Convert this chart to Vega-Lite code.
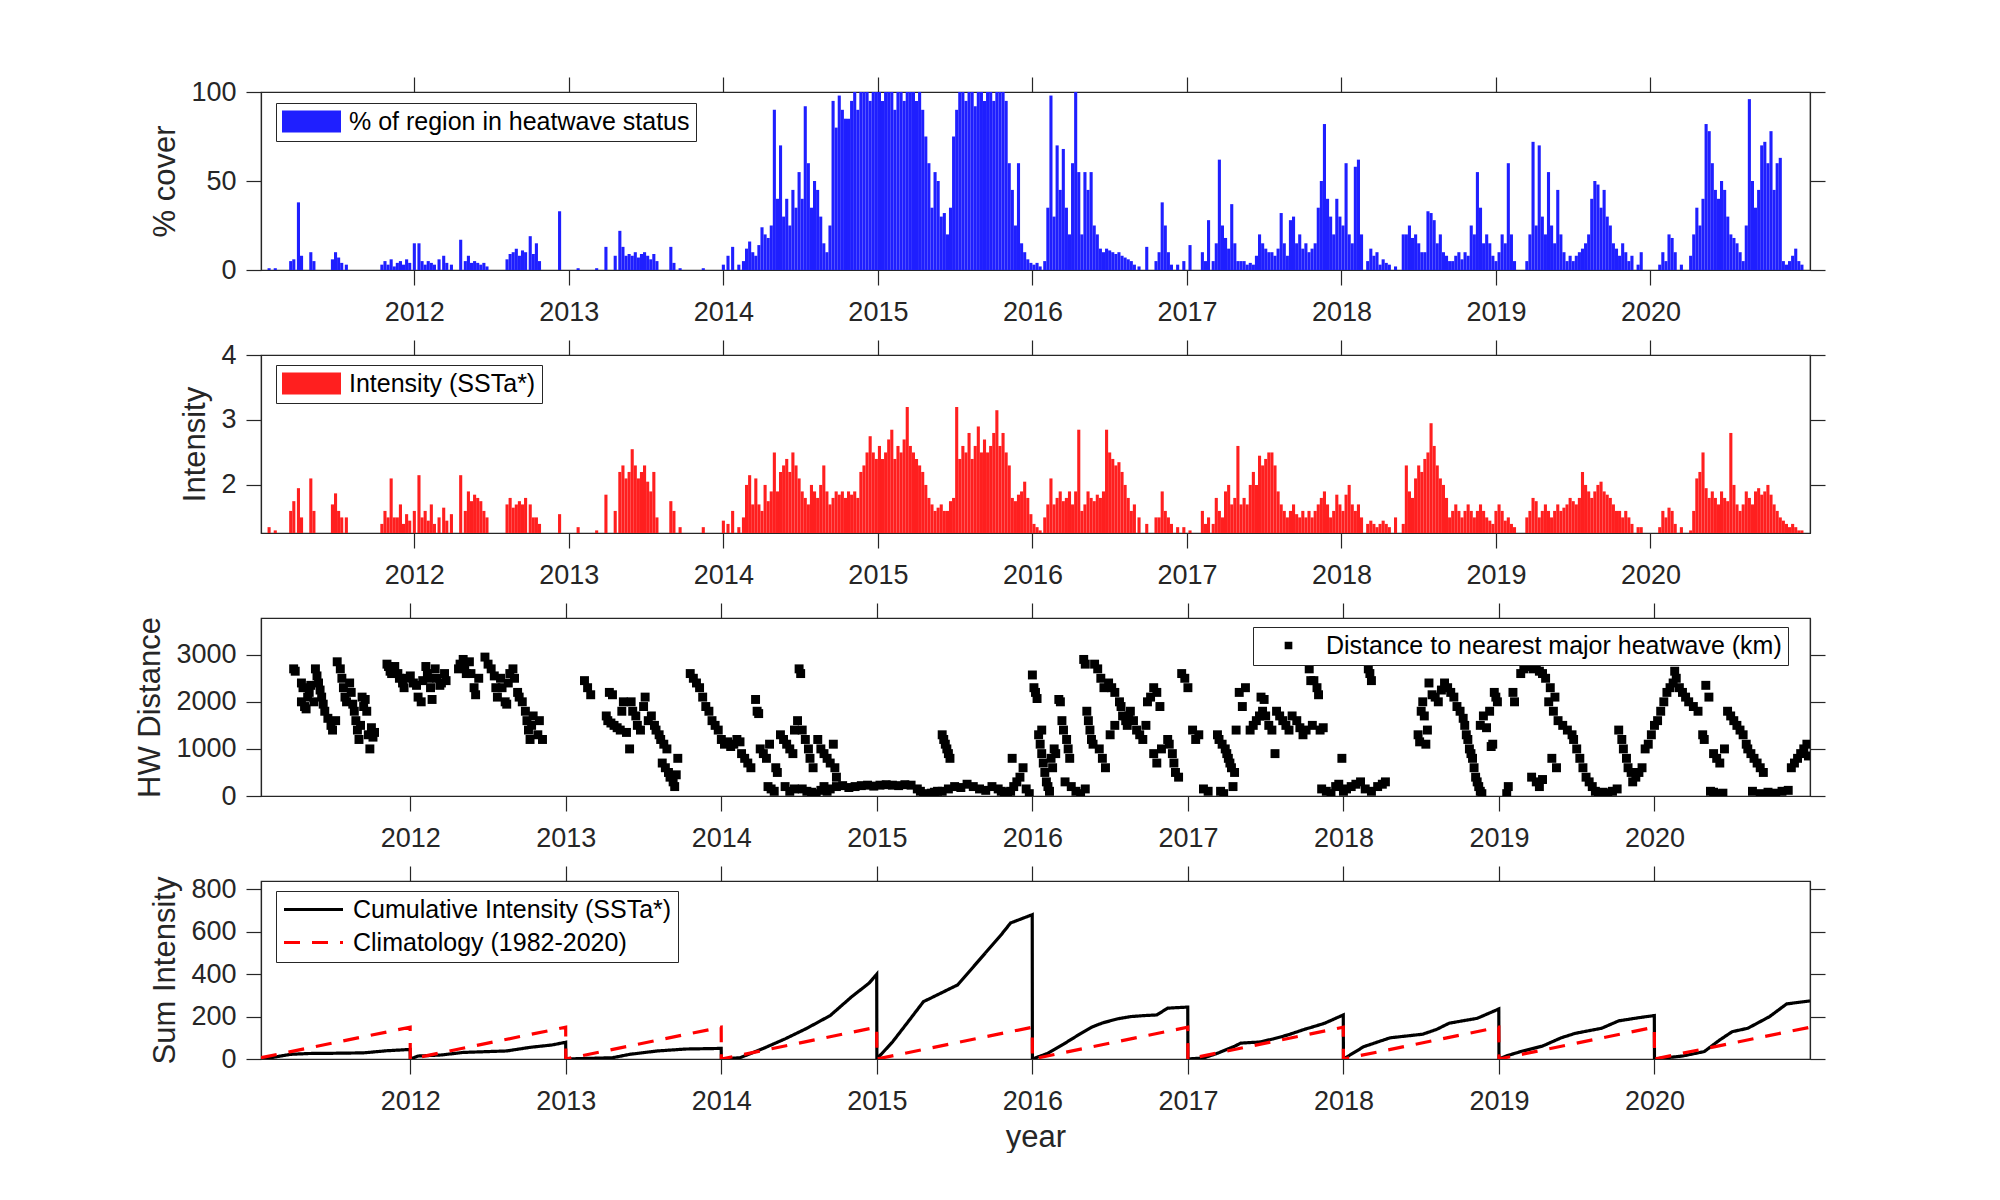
{
"$schema": "https://vega.github.io/schema/vega-lite/v6.json",
"background": "white",
"padding": {"left": 134, "top": 75, "right": 0, "bottom": 0},
"bounds": "flush",
"spacing": 85,
"datasets": {
"w": [
{"t":2011.06,"c":1,"i":1.35},{"t":2011.10,"c":1,"i":1.3},{"t":2011.20,"c":5,"i":1.6},{"t":2011.22,"c":6,"i":1.75},{"t":2011.25,"c":38,"i":1.95},{"t":2011.27,"c":8,"i":1.5},{"t":2011.33,"c":10,"i":2.1},{"t":2011.35,"c":5,"i":1.6},{"t":2011.47,"c":6,"i":1.7},{"t":2011.49,"c":10,"i":1.87},{"t":2011.51,"c":7,"i":1.6},{"t":2011.53,"c":4,"i":1.5},{"t":2011.56,"c":3,"i":1.5},{"t":2011.79,"c":3,"i":1.4},{"t":2011.81,"c":5,"i":1.6},{"t":2011.83,"c":3,"i":1.5},{"t":2011.85,"c":6,"i":2.1},{"t":2011.87,"c":2,"i":1.5},{"t":2011.89,"c":4,"i":1.5},{"t":2011.91,"c":5,"i":1.7},{"t":2011.93,"c":3,"i":1.4},{"t":2011.95,"c":6,"i":1.55},{"t":2011.97,"c":4,"i":1.45},
{"t":2012.00,"c":15,"i":1.6},{"t":2012.03,"c":15,"i":2.15},{"t":2012.05,"c":5,"i":1.5},{"t":2012.07,"c":3,"i":1.6},{"t":2012.09,"c":5,"i":1.45},{"t":2012.11,"c":4,"i":1.7},{"t":2012.13,"c":3,"i":1.4},{"t":2012.16,"c":6,"i":1.5},{"t":2012.19,"c":8,"i":1.65},{"t":2012.21,"c":4,"i":1.45},{"t":2012.24,"c":3,"i":1.55},{"t":2012.30,"c":17,"i":2.15},{"t":2012.33,"c":5,"i":1.6},{"t":2012.35,"c":8,"i":1.9},{"t":2012.37,"c":4,"i":1.75},{"t":2012.39,"c":5,"i":1.85},{"t":2012.41,"c":4,"i":1.8},{"t":2012.43,"c":3,"i":1.75},{"t":2012.45,"c":4,"i":1.6},{"t":2012.47,"c":2,"i":1.5},{"t":2012.60,"c":6,"i":1.7},{"t":2012.62,"c":9,"i":1.8},{"t":2012.64,"c":10,"i":1.65},{"t":2012.66,"c":12,"i":1.7},{"t":2012.68,"c":8,"i":1.75},{"t":2012.70,"c":11,"i":1.7},{"t":2012.72,"c":10,"i":1.8},{"t":2012.75,"c":19,"i":1.7},{"t":2012.77,"c":9,"i":1.5},{"t":2012.79,"c":15,"i":1.5},{"t":2012.81,"c":5,"i":1.4},{"t":2012.94,"c":33,"i":1.55},
{"t":2013.06,"c":1,"i":1.35},{"t":2013.18,"c":1,"i":1.3},{"t":2013.24,"c":13,"i":1.85},{"t":2013.30,"c":8,"i":1.6},{"t":2013.33,"c":22,"i":2.2},{"t":2013.35,"c":13,"i":2.3},{"t":2013.37,"c":8,"i":2.1},{"t":2013.39,"c":9,"i":2.2},{"t":2013.41,"c":8,"i":2.55},{"t":2013.43,"c":10,"i":2.3},{"t":2013.45,"c":7,"i":2.1},{"t":2013.47,"c":9,"i":2.2},{"t":2013.49,"c":10,"i":2.3},{"t":2013.51,"c":8,"i":2.05},{"t":2013.53,"c":6,"i":1.9},{"t":2013.55,"c":9,"i":2.2},{"t":2013.57,"c":5,"i":1.5},{"t":2013.66,"c":13,"i":1.75},{"t":2013.68,"c":4,"i":1.6},{"t":2013.72,"c":1,"i":1.35},{"t":2013.87,"c":1,"i":1.35},
{"t":2014.00,"c":3,"i":1.45},{"t":2014.03,"c":8,"i":1.4},{"t":2014.06,"c":13,"i":1.6},{"t":2014.10,"c":3,"i":1.35},{"t":2014.13,"c":5,"i":1.5},{"t":2014.15,"c":12,"i":2.0},{"t":2014.17,"c":16,"i":2.15},{"t":2014.19,"c":10,"i":1.7},{"t":2014.21,"c":8,"i":2.1},{"t":2014.23,"c":14,"i":1.7},{"t":2014.25,"c":24,"i":1.6},{"t":2014.27,"c":20,"i":2.0},{"t":2014.29,"c":18,"i":1.75},{"t":2014.31,"c":25,"i":1.9},{"t":2014.33,"c":90,"i":2.5},{"t":2014.35,"c":40,"i":1.9},{"t":2014.37,"c":70,"i":2.2},{"t":2014.39,"c":30,"i":2.3},{"t":2014.41,"c":40,"i":2.4},{"t":2014.43,"c":25,"i":2.2},{"t":2014.45,"c":45,"i":2.5},{"t":2014.47,"c":35,"i":2.3},{"t":2014.49,"c":55,"i":2.1},{"t":2014.51,"c":40,"i":1.9},{"t":2014.53,"c":92,"i":1.8},{"t":2014.55,"c":60,"i":1.7},{"t":2014.57,"c":35,"i":2.0},{"t":2014.59,"c":50,"i":1.9},{"t":2014.61,"c":45,"i":1.8},{"t":2014.63,"c":30,"i":2.0},{"t":2014.65,"c":15,"i":2.3},{"t":2014.67,"c":10,"i":1.9},{"t":2014.69,"c":25,"i":1.7},{"t":2014.71,"c":95,"i":1.8},{"t":2014.73,"c":80,"i":1.9},{"t":2014.75,"c":98,"i":1.85},{"t":2014.77,"c":90,"i":1.9},{"t":2014.79,"c":85,"i":1.8},{"t":2014.81,"c":85,"i":1.9},{"t":2014.83,"c":95,"i":1.85},{"t":2014.85,"c":100,"i":1.9},{"t":2014.87,"c":90,"i":1.8},{"t":2014.89,"c":100,"i":2.2},{"t":2014.91,"c":100,"i":2.3},{"t":2014.93,"c":100,"i":2.5},{"t":2014.95,"c":95,"i":2.75},{"t":2014.97,"c":100,"i":2.5},{"t":2014.99,"c":100,"i":2.4},
{"t":2015.01,"c":100,"i":2.6},{"t":2015.03,"c":95,"i":2.4},{"t":2015.05,"c":100,"i":2.5},{"t":2015.07,"c":100,"i":2.7},{"t":2015.09,"c":100,"i":2.85},{"t":2015.11,"c":90,"i":2.4},{"t":2015.13,"c":100,"i":2.6},{"t":2015.15,"c":100,"i":2.5},{"t":2015.17,"c":95,"i":2.7},{"t":2015.19,"c":100,"i":3.2},{"t":2015.21,"c":100,"i":2.6},{"t":2015.23,"c":100,"i":2.5},{"t":2015.25,"c":95,"i":2.4},{"t":2015.27,"c":100,"i":2.3},{"t":2015.29,"c":90,"i":2.2},{"t":2015.31,"c":75,"i":2.0},{"t":2015.33,"c":60,"i":1.8},{"t":2015.35,"c":35,"i":1.7},{"t":2015.37,"c":55,"i":1.6},{"t":2015.39,"c":50,"i":1.65},{"t":2015.41,"c":30,"i":1.7},{"t":2015.43,"c":32,"i":1.6},{"t":2015.45,"c":20,"i":1.6},{"t":2015.47,"c":35,"i":1.75},{"t":2015.49,"c":75,"i":1.8},{"t":2015.51,"c":90,"i":3.2},{"t":2015.53,"c":100,"i":2.4},{"t":2015.55,"c":100,"i":2.6},{"t":2015.57,"c":95,"i":2.5},{"t":2015.59,"c":100,"i":2.8},{"t":2015.61,"c":100,"i":2.4},{"t":2015.63,"c":92,"i":2.6},{"t":2015.65,"c":100,"i":2.9},{"t":2015.67,"c":100,"i":2.5},{"t":2015.69,"c":95,"i":2.7},{"t":2015.71,"c":100,"i":2.5},{"t":2015.73,"c":100,"i":2.6},{"t":2015.75,"c":95,"i":2.8},{"t":2015.77,"c":100,"i":3.15},{"t":2015.79,"c":100,"i":2.6},{"t":2015.81,"c":100,"i":2.8},{"t":2015.83,"c":95,"i":2.5},{"t":2015.85,"c":60,"i":2.3},{"t":2015.87,"c":45,"i":1.8},{"t":2015.89,"c":25,"i":1.75},{"t":2015.91,"c":60,"i":1.85},{"t":2015.93,"c":15,"i":1.9},{"t":2015.95,"c":10,"i":2.05},{"t":2015.97,"c":6,"i":1.8},{"t":2015.99,"c":4,"i":1.55},
{"t":2016.01,"c":3,"i":1.4},{"t":2016.03,"c":4,"i":1.35},{"t":2016.05,"c":2,"i":1.3},{"t":2016.08,"c":5,"i":1.5},{"t":2016.10,"c":35,"i":1.7},{"t":2016.12,"c":98,"i":2.1},{"t":2016.14,"c":30,"i":1.7},{"t":2016.16,"c":70,"i":1.8},{"t":2016.18,"c":45,"i":1.9},{"t":2016.20,"c":68,"i":1.75},{"t":2016.22,"c":35,"i":1.8},{"t":2016.24,"c":20,"i":1.9},{"t":2016.26,"c":60,"i":1.7},{"t":2016.28,"c":100,"i":1.9},{"t":2016.30,"c":55,"i":2.85},{"t":2016.32,"c":20,"i":1.6},{"t":2016.34,"c":55,"i":1.7},{"t":2016.36,"c":45,"i":1.9},{"t":2016.38,"c":55,"i":1.8},{"t":2016.40,"c":25,"i":1.75},{"t":2016.42,"c":20,"i":1.85},{"t":2016.44,"c":12,"i":1.8},{"t":2016.46,"c":10,"i":1.9},{"t":2016.48,"c":12,"i":2.85},{"t":2016.50,"c":11,"i":2.5},{"t":2016.52,"c":10,"i":2.4},{"t":2016.54,"c":9,"i":2.3},{"t":2016.56,"c":10,"i":2.35},{"t":2016.58,"c":8,"i":2.2},{"t":2016.60,"c":7,"i":2.0},{"t":2016.62,"c":6,"i":1.8},{"t":2016.64,"c":5,"i":1.6},{"t":2016.66,"c":3,"i":1.7},{"t":2016.69,"c":2,"i":1.5},{"t":2016.74,"c":13,"i":1.4},{"t":2016.80,"c":5,"i":1.5},{"t":2016.82,"c":10,"i":1.5},{"t":2016.84,"c":38,"i":1.9},{"t":2016.86,"c":25,"i":1.6},{"t":2016.88,"c":10,"i":1.5},{"t":2016.90,"c":3,"i":1.4},{"t":2016.94,"c":3,"i":1.35},{"t":2016.98,"c":5,"i":1.35},
{"t":2017.02,"c":14,"i":1.3},{"t":2017.10,"c":10,"i":1.6},{"t":2017.12,"c":5,"i":1.4},{"t":2017.14,"c":28,"i":1.5},{"t":2017.17,"c":5,"i":1.4},{"t":2017.19,"c":15,"i":1.8},{"t":2017.21,"c":62,"i":1.6},{"t":2017.23,"c":25,"i":1.5},{"t":2017.25,"c":18,"i":1.9},{"t":2017.27,"c":12,"i":2.0},{"t":2017.29,"c":37,"i":1.7},{"t":2017.31,"c":15,"i":1.8},{"t":2017.33,"c":5,"i":2.6},{"t":2017.35,"c":5,"i":1.7},{"t":2017.37,"c":5,"i":1.8},{"t":2017.39,"c":3,"i":1.7},{"t":2017.41,"c":4,"i":2.0},{"t":2017.43,"c":3,"i":2.2},{"t":2017.45,"c":8,"i":2.0},{"t":2017.47,"c":20,"i":2.45},{"t":2017.49,"c":15,"i":2.3},{"t":2017.51,"c":12,"i":2.4},{"t":2017.53,"c":10,"i":2.5},{"t":2017.55,"c":10,"i":2.5},{"t":2017.57,"c":8,"i":2.3},{"t":2017.59,"c":12,"i":1.9},{"t":2017.61,"c":32,"i":1.7},{"t":2017.63,"c":15,"i":1.6},{"t":2017.65,"c":8,"i":1.5},{"t":2017.67,"c":28,"i":1.6},{"t":2017.69,"c":30,"i":1.7},{"t":2017.71,"c":15,"i":1.55},{"t":2017.73,"c":20,"i":1.5},{"t":2017.75,"c":12,"i":1.6},{"t":2017.77,"c":15,"i":1.5},{"t":2017.79,"c":10,"i":1.6},{"t":2017.81,"c":12,"i":1.5},{"t":2017.83,"c":15,"i":1.6},{"t":2017.85,"c":35,"i":1.7},{"t":2017.87,"c":50,"i":1.8},{"t":2017.89,"c":82,"i":1.9},{"t":2017.91,"c":40,"i":1.7},{"t":2017.93,"c":30,"i":1.5},{"t":2017.95,"c":20,"i":1.6},{"t":2017.97,"c":40,"i":1.85},{"t":2017.99,"c":30,"i":1.7},
{"t":2018.01,"c":25,"i":1.6},{"t":2018.03,"c":60,"i":1.85},{"t":2018.05,"c":20,"i":2.0},{"t":2018.07,"c":15,"i":1.7},{"t":2018.09,"c":58,"i":1.6},{"t":2018.11,"c":62,"i":1.7},{"t":2018.13,"c":20,"i":1.5},{"t":2018.17,"c":5,"i":1.4},{"t":2018.19,"c":12,"i":1.45},{"t":2018.21,"c":8,"i":1.4},{"t":2018.23,"c":10,"i":1.35},{"t":2018.25,"c":3,"i":1.4},{"t":2018.27,"c":6,"i":1.45},{"t":2018.29,"c":4,"i":1.4},{"t":2018.31,"c":3,"i":1.35},{"t":2018.35,"c":2,"i":1.5},{"t":2018.40,"c":20,"i":1.4},{"t":2018.42,"c":20,"i":2.3},{"t":2018.44,"c":25,"i":1.9},{"t":2018.46,"c":18,"i":1.8},{"t":2018.48,"c":20,"i":2.1},{"t":2018.50,"c":15,"i":2.3},{"t":2018.52,"c":10,"i":2.2},{"t":2018.54,"c":10,"i":2.4},{"t":2018.56,"c":33,"i":2.5},{"t":2018.58,"c":32,"i":2.95},{"t":2018.60,"c":28,"i":2.6},{"t":2018.62,"c":15,"i":2.3},{"t":2018.64,"c":20,"i":2.1},{"t":2018.66,"c":10,"i":2.0},{"t":2018.68,"c":8,"i":1.8},{"t":2018.70,"c":5,"i":1.5},{"t":2018.72,"c":5,"i":1.6},{"t":2018.74,"c":8,"i":1.7},{"t":2018.76,"c":10,"i":1.6},{"t":2018.78,"c":6,"i":1.5},{"t":2018.80,"c":10,"i":1.6},{"t":2018.82,"c":8,"i":1.7},{"t":2018.84,"c":25,"i":1.6},{"t":2018.86,"c":20,"i":1.5},{"t":2018.88,"c":55,"i":1.6},{"t":2018.90,"c":35,"i":1.7},{"t":2018.92,"c":15,"i":1.6},{"t":2018.94,"c":20,"i":1.5},{"t":2018.96,"c":15,"i":1.45},{"t":2018.98,"c":8,"i":1.4},
{"t":2019.00,"c":5,"i":1.6},{"t":2019.02,"c":10,"i":1.7},{"t":2019.04,"c":20,"i":1.6},{"t":2019.06,"c":15,"i":1.45},{"t":2019.08,"c":60,"i":1.5},{"t":2019.10,"c":20,"i":1.4},{"t":2019.12,"c":5,"i":1.35},{"t":2019.20,"c":5,"i":1.5},{"t":2019.22,"c":20,"i":1.6},{"t":2019.24,"c":72,"i":1.8},{"t":2019.26,"c":25,"i":1.75},{"t":2019.28,"c":70,"i":1.5},{"t":2019.30,"c":30,"i":1.6},{"t":2019.32,"c":20,"i":1.7},{"t":2019.34,"c":55,"i":1.6},{"t":2019.36,"c":25,"i":1.5},{"t":2019.38,"c":15,"i":1.6},{"t":2019.40,"c":45,"i":1.7},{"t":2019.42,"c":20,"i":1.6},{"t":2019.44,"c":10,"i":1.65},{"t":2019.46,"c":5,"i":1.7},{"t":2019.48,"c":8,"i":1.8},{"t":2019.50,"c":5,"i":1.75},{"t":2019.52,"c":8,"i":1.7},{"t":2019.54,"c":10,"i":1.8},{"t":2019.56,"c":12,"i":2.2},{"t":2019.58,"c":15,"i":2.0},{"t":2019.60,"c":20,"i":1.9},{"t":2019.62,"c":40,"i":1.8},{"t":2019.64,"c":50,"i":1.9},{"t":2019.66,"c":48,"i":2.0},{"t":2019.68,"c":35,"i":2.05},{"t":2019.70,"c":45,"i":1.9},{"t":2019.72,"c":30,"i":1.85},{"t":2019.74,"c":25,"i":1.8},{"t":2019.76,"c":15,"i":1.7},{"t":2019.78,"c":12,"i":1.6},{"t":2019.80,"c":8,"i":1.6},{"t":2019.82,"c":15,"i":1.5},{"t":2019.84,"c":10,"i":1.6},{"t":2019.86,"c":5,"i":1.5},{"t":2019.88,"c":8,"i":1.4},{"t":2019.92,"c":3,"i":1.35},{"t":2019.94,"c":10,"i":1.35},
{"t":2020.06,"c":3,"i":1.35},{"t":2020.08,"c":10,"i":1.6},{"t":2020.10,"c":5,"i":1.5},{"t":2020.12,"c":20,"i":1.65},{"t":2020.14,"c":18,"i":1.6},{"t":2020.16,"c":10,"i":1.4},{"t":2020.20,"c":3,"i":1.35},{"t":2020.26,"c":8,"i":1.3},{"t":2020.28,"c":20,"i":1.6},{"t":2020.30,"c":35,"i":2.1},{"t":2020.32,"c":25,"i":2.2},{"t":2020.34,"c":40,"i":2.5},{"t":2020.36,"c":82,"i":1.95},{"t":2020.38,"c":78,"i":1.8},{"t":2020.40,"c":60,"i":1.9},{"t":2020.42,"c":45,"i":1.8},{"t":2020.44,"c":40,"i":1.7},{"t":2020.46,"c":50,"i":1.9},{"t":2020.48,"c":45,"i":1.8},{"t":2020.50,"c":30,"i":1.75},{"t":2020.52,"c":20,"i":2.8},{"t":2020.54,"c":18,"i":2.0},{"t":2020.56,"c":15,"i":1.7},{"t":2020.58,"c":10,"i":1.6},{"t":2020.60,"c":5,"i":1.7},{"t":2020.62,"c":25,"i":1.9},{"t":2020.64,"c":96,"i":1.8},{"t":2020.66,"c":50,"i":1.7},{"t":2020.68,"c":35,"i":1.9},{"t":2020.70,"c":45,"i":1.95},{"t":2020.72,"c":70,"i":1.85},{"t":2020.74,"c":72,"i":1.9},{"t":2020.76,"c":60,"i":2.0},{"t":2020.78,"c":78,"i":1.85},{"t":2020.80,"c":45,"i":1.7},{"t":2020.82,"c":60,"i":1.6},{"t":2020.84,"c":63,"i":1.5},{"t":2020.86,"c":5,"i":1.45},{"t":2020.88,"c":3,"i":1.4},{"t":2020.90,"c":5,"i":1.35},{"t":2020.92,"c":8,"i":1.4},{"t":2020.94,"c":12,"i":1.35},{"t":2020.96,"c":5,"i":1.3},{"t":2020.98,"c":3,"i":1.3}
],
"d": [
{"t":2011.25,"h":2700},{"t":2011.26,"h":2650},{"t":2011.30,"h":2400},{"t":2011.31,"h":2300},{"t":2011.30,"h":2000},{"t":2011.32,"h":1900},{"t":2011.33,"h":1850},{"t":2011.34,"h":2100},{"t":2011.35,"h":2200},{"t":2011.36,"h":2350},{"t":2011.38,"h":2000},{"t":2011.39,"h":2700},{"t":2011.40,"h":2550},{"t":2011.41,"h":2400},{"t":2011.42,"h":2250},{"t":2011.43,"h":2100},{"t":2011.44,"h":1950},{"t":2011.45,"h":1800},{"t":2011.47,"h":1650},{"t":2011.49,"h":1500},{"t":2011.50,"h":1400},{"t":2011.52,"h":1600},{"t":2011.53,"h":2850},{"t":2011.55,"h":2700},{"t":2011.56,"h":2500},{"t":2011.57,"h":2300},{"t":2011.58,"h":2100},{"t":2011.59,"h":2000},{"t":2011.61,"h":2400},{"t":2011.62,"h":2200},{"t":2011.63,"h":1950},{"t":2011.64,"h":1800},{"t":2011.65,"h":1600},{"t":2011.66,"h":1400},{"t":2011.67,"h":1200},{"t":2011.68,"h":1500},{"t":2011.69,"h":2100},{"t":2011.70,"h":1900},{"t":2011.71,"h":2050},{"t":2011.72,"h":1800},{"t":2011.73,"h":1300},{"t":2011.74,"h":1000},{"t":2011.75,"h":1450},{"t":2011.76,"h":1250},{"t":2011.77,"h":1350},
{"t":2011.85,"h":2800},{"t":2011.86,"h":2750},{"t":2011.87,"h":2650},{"t":2011.88,"h":2600},{"t":2011.90,"h":2750},{"t":2011.92,"h":2600},{"t":2011.93,"h":2500},{"t":2011.95,"h":2400},{"t":2011.96,"h":2300},{"t":2011.98,"h":2500},{"t":2012.00,"h":2550},{"t":2012.02,"h":2400},{"t":2012.04,"h":2350},{"t":2012.05,"h":2100},{"t":2012.07,"h":2000},{"t":2012.08,"h":2450},{"t":2012.10,"h":2750},{"t":2012.11,"h":2600},{"t":2012.12,"h":2500},{"t":2012.13,"h":2300},{"t":2012.14,"h":2050},{"t":2012.16,"h":2700},{"t":2012.17,"h":2500},{"t":2012.19,"h":2350},{"t":2012.20,"h":2400},{"t":2012.22,"h":2600},{"t":2012.23,"h":2450},{"t":2012.31,"h":2700},{"t":2012.32,"h":2800},{"t":2012.34,"h":2900},{"t":2012.35,"h":2750},{"t":2012.36,"h":2600},{"t":2012.38,"h":2850},{"t":2012.39,"h":2600},{"t":2012.41,"h":2300},{"t":2012.42,"h":2150},{"t":2012.44,"h":2500},{"t":2012.48,"h":2950},{"t":2012.50,"h":2800},{"t":2012.52,"h":2700},{"t":2012.54,"h":2550},{"t":2012.55,"h":2300},{"t":2012.56,"h":2100},{"t":2012.58,"h":2500},{"t":2012.59,"h":2300},{"t":2012.61,"h":2000},{"t":2012.62,"h":1950},{"t":2012.63,"h":2400},{"t":2012.64,"h":2600},{"t":2012.66,"h":2700},{"t":2012.67,"h":2500},{"t":2012.69,"h":2200},{"t":2012.70,"h":2100},{"t":2012.72,"h":2000},{"t":2012.74,"h":1800},{"t":2012.75,"h":1600},{"t":2012.76,"h":1400},{"t":2012.77,"h":1200},{"t":2012.78,"h":1500},{"t":2012.79,"h":1700},{"t":2012.82,"h":1300},{"t":2012.83,"h":1600},{"t":2012.85,"h":1200},
{"t":2013.12,"h":2450},{"t":2013.14,"h":2300},{"t":2013.16,"h":2150},{"t":2013.28,"h":2200},{"t":2013.30,"h":2150},{"t":2013.26,"h":1700},{"t":2013.27,"h":1600},{"t":2013.29,"h":1550},{"t":2013.31,"h":1500},{"t":2013.33,"h":1450},{"t":2013.35,"h":1400},{"t":2013.36,"h":1800},{"t":2013.37,"h":2000},{"t":2013.39,"h":1350},{"t":2013.41,"h":1000},{"t":2013.42,"h":2000},{"t":2013.43,"h":1800},{"t":2013.45,"h":1700},{"t":2013.46,"h":1500},{"t":2013.48,"h":1400},{"t":2013.50,"h":1900},{"t":2013.51,"h":2100},{"t":2013.53,"h":1600},{"t":2013.55,"h":1700},{"t":2013.57,"h":1500},{"t":2013.58,"h":1400},{"t":2013.60,"h":1300},{"t":2013.61,"h":1200},{"t":2013.63,"h":1100},{"t":2013.65,"h":1000},{"t":2013.62,"h":700},{"t":2013.64,"h":600},{"t":2013.66,"h":500},{"t":2013.67,"h":400},{"t":2013.69,"h":300},{"t":2013.70,"h":200},{"t":2013.71,"h":450},{"t":2013.72,"h":800},{"t":2013.80,"h":2600},{"t":2013.82,"h":2500},{"t":2013.84,"h":2400},{"t":2013.86,"h":2300},{"t":2013.88,"h":2100},{"t":2013.90,"h":1900},{"t":2013.92,"h":1800},{"t":2013.94,"h":1600},{"t":2013.96,"h":1500},{"t":2013.98,"h":1400},
{"t":2014.00,"h":1200},{"t":2014.02,"h":1100},{"t":2014.04,"h":1150},{"t":2014.06,"h":1050},{"t":2014.08,"h":1100},{"t":2014.10,"h":1200},{"t":2014.12,"h":1150},{"t":2014.13,"h":900},{"t":2014.15,"h":800},{"t":2014.17,"h":700},{"t":2014.19,"h":600},{"t":2014.22,"h":2050},{"t":2014.23,"h":1800},{"t":2014.24,"h":1750},{"t":2014.25,"h":1000},{"t":2014.27,"h":900},{"t":2014.29,"h":800},{"t":2014.31,"h":1100},{"t":2014.30,"h":200},{"t":2014.32,"h":150},{"t":2014.34,"h":100},{"t":2014.35,"h":600},{"t":2014.36,"h":500},{"t":2014.38,"h":1300},{"t":2014.40,"h":1200},{"t":2014.42,"h":1100},{"t":2014.44,"h":1000},{"t":2014.46,"h":900},{"t":2014.47,"h":1400},{"t":2014.41,"h":200},{"t":2014.44,"h":100},{"t":2014.47,"h":150},{"t":2014.50,"h":2700},{"t":2014.51,"h":2600},{"t":2014.49,"h":1600},{"t":2014.52,"h":1400},{"t":2014.54,"h":1200},{"t":2014.56,"h":1000},{"t":2014.57,"h":800},{"t":2014.59,"h":600},{"t":2014.52,"h":150},{"t":2014.55,"h":100},{"t":2014.58,"h":80},{"t":2014.61,"h":50},{"t":2014.64,"h":120},{"t":2014.66,"h":200},{"t":2014.68,"h":100},{"t":2014.62,"h":1200},{"t":2014.64,"h":1000},{"t":2014.66,"h":900},{"t":2014.68,"h":800},{"t":2014.70,"h":700},{"t":2014.72,"h":1100},{"t":2014.73,"h":600},{"t":2014.74,"h":400},{"t":2014.70,"h":150},{"t":2014.74,"h":200},{"t":2014.78,"h":220},{"t":2014.82,"h":180},{"t":2014.86,"h":200},{"t":2014.90,"h":220},{"t":2014.94,"h":230},{"t":2014.98,"h":210},
{"t":2015.02,"h":230},{"t":2015.06,"h":240},{"t":2015.10,"h":230},{"t":2015.14,"h":220},{"t":2015.18,"h":240},{"t":2015.22,"h":230},{"t":2015.26,"h":150},{"t":2015.28,"h":100},{"t":2015.30,"h":50},{"t":2015.32,"h":30},{"t":2015.35,"h":60},{"t":2015.37,"h":80},{"t":2015.39,"h":100},{"t":2015.42,"h":1300},{"t":2015.43,"h":1200},{"t":2015.44,"h":1100},{"t":2015.45,"h":1000},{"t":2015.46,"h":900},{"t":2015.47,"h":800},{"t":2015.42,"h":100},{"t":2015.46,"h":150},{"t":2015.50,"h":200},{"t":2015.54,"h":180},{"t":2015.58,"h":250},{"t":2015.62,"h":200},{"t":2015.66,"h":150},{"t":2015.70,"h":120},{"t":2015.74,"h":200},{"t":2015.78,"h":150},{"t":2015.80,"h":100},{"t":2015.82,"h":50},{"t":2015.84,"h":80},{"t":2015.86,"h":100},{"t":2015.87,"h":800},{"t":2015.88,"h":200},{"t":2015.90,"h":300},{"t":2015.92,"h":400},{"t":2015.94,"h":600},{"t":2015.96,"h":150},{"t":2015.98,"h":50},
{"t":2016.00,"h":2570},{"t":2016.01,"h":2300},{"t":2016.02,"h":2200},{"t":2016.03,"h":2070},{"t":2016.04,"h":1300},{"t":2016.05,"h":1100},{"t":2016.06,"h":900},{"t":2016.07,"h":700},{"t":2016.06,"h":1400},{"t":2016.08,"h":500},{"t":2016.09,"h":300},{"t":2016.10,"h":200},{"t":2016.11,"h":100},{"t":2016.12,"h":800},{"t":2016.13,"h":600},{"t":2016.14,"h":1000},{"t":2016.15,"h":900},{"t":2016.17,"h":2050},{"t":2016.18,"h":2000},{"t":2016.19,"h":1600},{"t":2016.20,"h":1400},{"t":2016.22,"h":1200},{"t":2016.23,"h":1000},{"t":2016.24,"h":800},{"t":2016.21,"h":300},{"t":2016.25,"h":200},{"t":2016.28,"h":100},{"t":2016.31,"h":50},{"t":2016.34,"h":150},{"t":2016.33,"h":2900},{"t":2016.34,"h":2800},{"t":2016.35,"h":1800},{"t":2016.36,"h":1600},{"t":2016.37,"h":1400},{"t":2016.38,"h":1200},{"t":2016.39,"h":1100},{"t":2016.40,"h":2800},{"t":2016.42,"h":2700},{"t":2016.44,"h":2500},{"t":2016.46,"h":2300},{"t":2016.43,"h":1000},{"t":2016.45,"h":800},{"t":2016.47,"h":600},{"t":2016.50,"h":1300},{"t":2016.53,"h":1500},{"t":2016.49,"h":2400},{"t":2016.51,"h":2300},{"t":2016.53,"h":2200},{"t":2016.56,"h":2000},{"t":2016.57,"h":1900},{"t":2016.58,"h":1700},{"t":2016.60,"h":1600},{"t":2016.61,"h":1500},{"t":2016.62,"h":1700},{"t":2016.63,"h":1800},{"t":2016.65,"h":1600},{"t":2016.67,"h":1400},{"t":2016.69,"h":1300},{"t":2016.71,"h":1200},{"t":2016.73,"h":1500},{"t":2016.74,"h":2000},{"t":2016.76,"h":2100},{"t":2016.78,"h":2300},{"t":2016.80,"h":2200},{"t":2016.82,"h":1900},{"t":2016.78,"h":900},{"t":2016.80,"h":700},{"t":2016.83,"h":1000},{"t":2016.87,"h":1200},{"t":2016.88,"h":1100},{"t":2016.90,"h":900},{"t":2016.91,"h":700},{"t":2016.92,"h":500},{"t":2016.94,"h":400},{"t":2016.96,"h":2600},{"t":2016.98,"h":2500},{"t":2017.00,"h":2300},
{"t":2017.03,"h":1400},{"t":2017.05,"h":1200},{"t":2017.07,"h":1300},{"t":2017.10,"h":150},{"t":2017.13,"h":100},{"t":2017.19,"h":1300},{"t":2017.20,"h":1200},{"t":2017.21,"h":100},{"t":2017.22,"h":1100},{"t":2017.23,"h":50},{"t":2017.24,"h":1000},{"t":2017.25,"h":900},{"t":2017.26,"h":800},{"t":2017.27,"h":700},{"t":2017.28,"h":600},{"t":2017.29,"h":200},{"t":2017.30,"h":500},{"t":2017.31,"h":1400},{"t":2017.33,"h":2200},{"t":2017.35,"h":1900},{"t":2017.37,"h":2300},{"t":2017.40,"h":1400},{"t":2017.42,"h":1500},{"t":2017.44,"h":1600},{"t":2017.46,"h":1700},{"t":2017.47,"h":2100},{"t":2017.48,"h":1800},{"t":2017.49,"h":2050},{"t":2017.50,"h":1700},{"t":2017.52,"h":1500},{"t":2017.54,"h":1400},{"t":2017.56,"h":900},{"t":2017.57,"h":1800},{"t":2017.59,"h":1700},{"t":2017.61,"h":1600},{"t":2017.63,"h":1500},{"t":2017.65,"h":1400},{"t":2017.67,"h":1700},{"t":2017.70,"h":1600},{"t":2017.72,"h":1450},{"t":2017.74,"h":1300},{"t":2017.76,"h":1400},{"t":2017.78,"h":2700},{"t":2017.79,"h":2450},{"t":2017.80,"h":1500},{"t":2017.81,"h":2450},{"t":2017.83,"h":2300},{"t":2017.84,"h":2150},{"t":2017.85,"h":1400},{"t":2017.87,"h":1450},{"t":2017.86,"h":150},{"t":2017.89,"h":100},{"t":2017.92,"h":50},{"t":2017.95,"h":200},{"t":2017.97,"h":250},{"t":2017.99,"h":800},{"t":2018.00,"h":100},
{"t":2018.02,"h":150},{"t":2018.05,"h":200},{"t":2018.08,"h":250},{"t":2018.11,"h":300},{"t":2018.14,"h":150},{"t":2018.18,"h":100},{"t":2018.22,"h":200},{"t":2018.25,"h":250},{"t":2018.27,"h":300},{"t":2018.16,"h":2700},{"t":2018.17,"h":2600},{"t":2018.18,"h":2450},{"t":2018.48,"h":1300},{"t":2018.49,"h":1150},{"t":2018.50,"h":1800},{"t":2018.51,"h":2000},{"t":2018.52,"h":1700},{"t":2018.53,"h":1100},{"t":2018.54,"h":1400},{"t":2018.55,"h":2400},{"t":2018.57,"h":2150},{"t":2018.59,"h":2100},{"t":2018.61,"h":2000},{"t":2018.63,"h":2250},{"t":2018.65,"h":2400},{"t":2018.67,"h":2300},{"t":2018.69,"h":2200},{"t":2018.71,"h":2100},{"t":2018.73,"h":1900},{"t":2018.75,"h":1800},{"t":2018.77,"h":1650},{"t":2018.78,"h":1500},{"t":2018.79,"h":1300},{"t":2018.80,"h":1200},{"t":2018.81,"h":1000},{"t":2018.82,"h":900},{"t":2018.83,"h":800},{"t":2018.84,"h":600},{"t":2018.85,"h":400},{"t":2018.86,"h":300},{"t":2018.87,"h":200},{"t":2018.88,"h":100},{"t":2018.89,"h":50},{"t":2018.88,"h":1500},{"t":2018.90,"h":1700},{"t":2018.92,"h":1450},{"t":2018.94,"h":1800},{"t":2018.95,"h":1050},{"t":2018.96,"h":1100},{"t":2018.97,"h":2200},{"t":2018.98,"h":2100},{"t":2018.99,"h":2000},{"t":2019.05,"h":50},{"t":2019.06,"h":200},{"t":2019.09,"h":2200},{"t":2019.10,"h":2000},
{"t":2019.14,"h":2600},{"t":2019.16,"h":2700},{"t":2019.18,"h":2750},{"t":2019.20,"h":2800},{"t":2019.22,"h":2700},{"t":2019.24,"h":2750},{"t":2019.26,"h":2650},{"t":2019.28,"h":2600},{"t":2019.21,"h":400},{"t":2019.24,"h":300},{"t":2019.26,"h":200},{"t":2019.28,"h":350},{"t":2019.30,"h":2500},{"t":2019.33,"h":2300},{"t":2019.36,"h":2100},{"t":2019.32,"h":2000},{"t":2019.35,"h":1800},{"t":2019.38,"h":1600},{"t":2019.41,"h":1500},{"t":2019.44,"h":1400},{"t":2019.47,"h":1300},{"t":2019.34,"h":800},{"t":2019.37,"h":600},{"t":2019.48,"h":1200},{"t":2019.50,"h":1000},{"t":2019.52,"h":800},{"t":2019.54,"h":600},{"t":2019.56,"h":400},{"t":2019.58,"h":300},{"t":2019.60,"h":200},{"t":2019.62,"h":100},{"t":2019.64,"h":50},{"t":2019.67,"h":80},{"t":2019.70,"h":60},{"t":2019.73,"h":100},{"t":2019.76,"h":150},{"t":2019.77,"h":1400},{"t":2019.79,"h":1200},{"t":2019.80,"h":1000},{"t":2019.82,"h":800},{"t":2019.83,"h":600},{"t":2019.85,"h":500},{"t":2019.86,"h":300},{"t":2019.88,"h":400},{"t":2019.90,"h":500},{"t":2019.92,"h":600},{"t":2019.94,"h":1000},{"t":2019.96,"h":1100},{"t":2019.98,"h":1300},{"t":2020.00,"h":1500},
{"t":2020.02,"h":1600},{"t":2020.04,"h":1800},{"t":2020.06,"h":2000},{"t":2020.08,"h":2200},{"t":2020.10,"h":2300},{"t":2020.12,"h":2400},{"t":2020.14,"h":2500},{"t":2020.13,"h":2650},{"t":2020.16,"h":2300},{"t":2020.18,"h":2200},{"t":2020.20,"h":2100},{"t":2020.22,"h":2000},{"t":2020.25,"h":1900},{"t":2020.28,"h":1800},{"t":2020.31,"h":1300},{"t":2020.32,"h":1200},{"t":2020.33,"h":2350},{"t":2020.35,"h":2100},{"t":2020.36,"h":100},{"t":2020.38,"h":80},{"t":2020.41,"h":50},{"t":2020.44,"h":60},{"t":2020.38,"h":900},{"t":2020.40,"h":800},{"t":2020.42,"h":700},{"t":2020.45,"h":1000},{"t":2020.47,"h":1800},{"t":2020.49,"h":1700},{"t":2020.51,"h":1600},{"t":2020.53,"h":1500},{"t":2020.55,"h":1400},{"t":2020.57,"h":1300},{"t":2020.59,"h":1100},{"t":2020.60,"h":1000},{"t":2020.62,"h":900},{"t":2020.64,"h":800},{"t":2020.66,"h":700},{"t":2020.68,"h":600},{"t":2020.70,"h":500},{"t":2020.63,"h":100},{"t":2020.68,"h":50},{"t":2020.73,"h":80},{"t":2020.78,"h":60},{"t":2020.82,"h":100},{"t":2020.86,"h":120},{"t":2020.88,"h":600},{"t":2020.90,"h":700},{"t":2020.92,"h":800},{"t":2020.94,"h":900},{"t":2020.96,"h":1000},{"t":2020.98,"h":1100},{"t":2020.99,"h":850}
],
"cum": [
{"t":2011.04,"v":0},{"t":2011.1,"v":6},{"t":2011.23,"v":22},{"t":2011.35,"v":26},{"t":2011.5,"v":27},{"t":2011.7,"v":29},{"t":2011.85,"v":39},{"t":2011.999,"v":45},
{"t":2012.0,"v":0},{"t":2012.05,"v":14},{"t":2012.2,"v":19},{"t":2012.34,"v":31},{"t":2012.5,"v":35},{"t":2012.62,"v":38},{"t":2012.77,"v":55},{"t":2012.91,"v":66},{"t":2012.999,"v":79},
{"t":2013.0,"v":0},{"t":2013.1,"v":2},{"t":2013.3,"v":6},{"t":2013.41,"v":22},{"t":2013.5,"v":30},{"t":2013.59,"v":38},{"t":2013.77,"v":47},{"t":2013.999,"v":50},
{"t":2014.0,"v":0},{"t":2014.12,"v":6},{"t":2014.27,"v":50},{"t":2014.41,"v":95},{"t":2014.55,"v":145},{"t":2014.7,"v":205},{"t":2014.84,"v":295},{"t":2014.95,"v":358},{"t":2014.999,"v":400},
{"t":2015.0,"v":0},{"t":2015.1,"v":80},{"t":2015.2,"v":175},{"t":2015.3,"v":271},{"t":2015.34,"v":285},{"t":2015.52,"v":350},{"t":2015.65,"v":460},{"t":2015.8,"v":587},{"t":2015.86,"v":642},{"t":2015.999,"v":681},
{"t":2016.0,"v":0},{"t":2016.1,"v":27},{"t":2016.2,"v":70},{"t":2016.31,"v":120},{"t":2016.38,"v":150},{"t":2016.45,"v":170},{"t":2016.55,"v":190},{"t":2016.63,"v":200},{"t":2016.72,"v":205},{"t":2016.8,"v":208},{"t":2016.87,"v":240},{"t":2016.999,"v":245},
{"t":2017.0,"v":0},{"t":2017.1,"v":5},{"t":2017.19,"v":27},{"t":2017.3,"v":60},{"t":2017.34,"v":75},{"t":2017.46,"v":80},{"t":2017.55,"v":95},{"t":2017.64,"v":113},{"t":2017.75,"v":140},{"t":2017.81,"v":153},{"t":2017.88,"v":169},{"t":2017.999,"v":208},
{"t":2018.0,"v":0},{"t":2018.13,"v":58},{"t":2018.3,"v":100},{"t":2018.51,"v":117},{"t":2018.6,"v":140},{"t":2018.68,"v":169},{"t":2018.86,"v":192},{"t":2018.999,"v":236},
{"t":2019.0,"v":0},{"t":2019.05,"v":15},{"t":2019.14,"v":35},{"t":2019.28,"v":61},{"t":2019.4,"v":100},{"t":2019.49,"v":121},{"t":2019.66,"v":145},{"t":2019.77,"v":180},{"t":2019.9,"v":195},{"t":2019.999,"v":205},
{"t":2020.0,"v":0},{"t":2020.18,"v":14},{"t":2020.32,"v":35},{"t":2020.42,"v":90},{"t":2020.5,"v":129},{"t":2020.6,"v":145},{"t":2020.74,"v":200},{"t":2020.85,"v":260},{"t":2021.0,"v":274}
],
"clim": [
{"t":2011.04,"v":6},{"t":2011.999,"v":150},{"t":2012.0,"v":0},{"t":2012.999,"v":150},{"t":2013.0,"v":0},{"t":2013.999,"v":150},{"t":2014.0,"v":0},{"t":2014.999,"v":150},{"t":2015.0,"v":0},{"t":2015.999,"v":150},{"t":2016.0,"v":0},{"t":2016.999,"v":150},{"t":2017.0,"v":0},{"t":2017.999,"v":150},{"t":2018.0,"v":0},{"t":2018.999,"v":150},{"t":2019.0,"v":0},{"t":2019.999,"v":150},{"t":2020.0,"v":0},{"t":2021.0,"v":150}
]
},
"vconcat": [
{
"width": 1549, "height": 178,
"layer": [
{"data": {"name": "w"}, "mark": {"type": "bar", "size": 3.1, "clip": true},
 "encoding": {
  "x": {"field": "t", "type": "quantitative", "scale": {"domain": [2011.04, 2021], "nice": false, "zero": false}, "axis": {"values": [2012,2013,2014,2015,2016,2017,2018,2019,2020], "format": "d", "title": null, "labelPadding": 14}},
  "y": {"field": "c", "type": "quantitative", "scale": {"domain": [0, 100], "nice": false}, "axis": {"values": [0,50,100], "format": "d", "title": "% cover"}},
  "color": {"datum": "% of region in heatwave status", "scale": {"range": ["#1f1fff"]}, "legend": {"orient": "none", "legendX": 15, "legendY": 11, "title": null, "symbolType": "M-1,-0.373H1V0.373H-1Z", "symbolSize": 3481, "symbolStrokeWidth": 0, "clipHeight": 25}}
 }},
{"data": {"values": [{"t": 2015, "c": 0}]}, "mark": {"type": "point", "opacity": 0},
 "encoding": {
  "x": {"field": "t", "type": "quantitative", "scale": {"domain": [2011.04, 2021], "nice": false, "zero": false}, "axis": {"orient": "top", "values": [2012,2013,2014,2015,2016,2017,2018,2019,2020], "labels": false, "title": null}},
  "y": {"field": "c", "type": "quantitative", "scale": {"domain": [0, 100], "nice": false}, "axis": {"orient": "right", "values": [0,50,100], "labels": false, "title": null}}
 }}
],
"resolve": {"axis": {"x": "independent", "y": "independent"}}
},
{
"width": 1549, "height": 178,
"layer": [
{"data": {"name": "w"}, "mark": {"type": "bar", "size": 3.1, "clip": true},
 "encoding": {
  "x": {"field": "t", "type": "quantitative", "scale": {"domain": [2011.04, 2021], "nice": false, "zero": false}, "axis": {"values": [2012,2013,2014,2015,2016,2017,2018,2019,2020], "format": "d", "title": null, "labelPadding": 14}},
  "y": {"field": "i", "type": "quantitative", "scale": {"domain": [1.26, 4], "nice": false, "zero": false}, "axis": {"values": [2,3,4], "format": "d", "title": "Intensity"}},
  "color": {"datum": "Intensity (SSTa*)", "scale": {"range": ["#ff1f1f"]}, "legend": {"orient": "none", "legendX": 15, "legendY": 10, "title": null, "symbolType": "M-1,-0.373H1V0.373H-1Z", "symbolSize": 3481, "symbolStrokeWidth": 0, "clipHeight": 25}}
 }},
{"data": {"values": [{"t": 2015, "i": 2}]}, "mark": {"type": "point", "opacity": 0},
 "encoding": {
  "x": {"field": "t", "type": "quantitative", "scale": {"domain": [2011.04, 2021], "nice": false, "zero": false}, "axis": {"orient": "top", "values": [2012,2013,2014,2015,2016,2017,2018,2019,2020], "labels": false, "title": null}},
  "y": {"field": "i", "type": "quantitative", "scale": {"domain": [1.26, 4], "nice": false, "zero": false}, "axis": {"orient": "right", "values": [2,3,4], "labels": false, "title": null}}
 }}
],
"resolve": {"axis": {"x": "independent", "y": "independent"}}
},
{
"width": 1549, "height": 178,
"layer": [
{"data": {"name": "d"}, "mark": {"type": "point", "shape": "square", "filled": true, "size": 80, "opacity": 1, "clip": true},
 "encoding": {
  "x": {"field": "t", "type": "quantitative", "scale": {"domain": [2011.04, 2021], "nice": false, "zero": false}, "axis": {"values": [2012,2013,2014,2015,2016,2017,2018,2019,2020], "format": "d", "title": null, "labelPadding": 14}},
  "y": {"field": "h", "type": "quantitative", "scale": {"domain": [0, 3780], "nice": false}, "axis": {"values": [0,1000,2000,3000], "format": "d", "title": "HW Distance"}},
  "color": {"datum": "Distance to nearest major heatwave (km)", "scale": {"range": ["#000000"]}, "legend": {"orient": "none", "legendX": 992, "legendY": 9, "title": null, "symbolType": "M-0.13,-0.13H0.13V0.13H-0.13Z", "symbolSize": 3481, "symbolStrokeWidth": 0, "clipHeight": 25}}
 }},
{"data": {"values": [{"t": 2015, "h": 0}]}, "mark": {"type": "point", "opacity": 0},
 "encoding": {
  "x": {"field": "t", "type": "quantitative", "scale": {"domain": [2011.04, 2021], "nice": false, "zero": false}, "axis": {"orient": "top", "values": [2012,2013,2014,2015,2016,2017,2018,2019,2020], "labels": false, "title": null}},
  "y": {"field": "h", "type": "quantitative", "scale": {"domain": [0, 3780], "nice": false}, "axis": {"orient": "right", "values": [0,1000,2000,3000], "labels": false, "title": null}}
 }}
],
"resolve": {"axis": {"x": "independent", "y": "independent"}}
},
{
"width": 1549, "height": 178,
"layer": [
{"data": {"name": "cum"}, "mark": {"type": "line", "strokeWidth": 3.2, "clip": true},
 "encoding": {
  "x": {"field": "t", "type": "quantitative", "scale": {"domain": [2011.04, 2021], "nice": false, "zero": false}, "axis": {"values": [2012,2013,2014,2015,2016,2017,2018,2019,2020], "format": "d", "title": "year", "labelPadding": 14, "titlePadding": 8}},
  "y": {"field": "v", "type": "quantitative", "scale": {"domain": [0, 840], "nice": false}, "axis": {"values": [0,200,400,600,800], "format": "d", "title": "Sum Intensity"}},
  "color": {"datum": "Cumulative Intensity (SSTa*)", "scale": {"domain": ["Cumulative Intensity (SSTa*)", "Climatology (1982-2020)"], "range": ["#000000", "#ff0000"]}, "legend": {"orient": "none", "legendX": 15, "legendY": 10, "title": null, "symbolType": "stroke", "symbolSize": 3481, "symbolStrokeWidth": 3.2, "rowPadding": 7, "clipHeight": 25}},
  "strokeDash": {"datum": "Cumulative Intensity (SSTa*)", "scale": {"domain": ["Cumulative Intensity (SSTa*)", "Climatology (1982-2020)"], "range": [[1, 0], [16, 12]]}, "legend": {"orient": "none", "legendX": 15, "legendY": 10, "title": null, "symbolType": "stroke", "symbolSize": 3481, "symbolStrokeWidth": 3.2, "rowPadding": 7, "clipHeight": 25}}
 }},
{"data": {"name": "clim"}, "mark": {"type": "line", "strokeWidth": 3.2, "clip": true},
 "encoding": {
  "x": {"field": "t", "type": "quantitative", "scale": {"domain": [2011.04, 2021], "nice": false, "zero": false}, "axis": null},
  "y": {"field": "v", "type": "quantitative", "scale": {"domain": [0, 840], "nice": false}, "axis": null},
  "color": {"datum": "Climatology (1982-2020)"},
  "strokeDash": {"datum": "Climatology (1982-2020)"}
 }},
{"data": {"values": [{"t": 2015, "v": 0}]}, "mark": {"type": "point", "opacity": 0},
 "encoding": {
  "x": {"field": "t", "type": "quantitative", "scale": {"domain": [2011.04, 2021], "nice": false, "zero": false}, "axis": {"orient": "top", "values": [2012,2013,2014,2015,2016,2017,2018,2019,2020], "labels": false, "title": null}},
  "y": {"field": "v", "type": "quantitative", "scale": {"domain": [0, 840], "nice": false}, "axis": {"orient": "right", "values": [0,200,400,600,800], "labels": false, "title": null}}
 }}
],
"resolve": {"axis": {"x": "independent", "y": "independent"}}
}
],
"resolve": {"scale": {"color": "independent", "strokeDash": "independent"}, "legend": {"color": "independent", "strokeDash": "independent"}},
"config": {
 "font": "Liberation Sans",
 "view": {"stroke": "#262626", "strokeWidth": 1.2},
 "axis": {"grid": false, "domainColor": "#262626", "domainWidth": 1.2, "tickColor": "#262626", "tickWidth": 1.2, "tickSize": 15, "labelColor": "#262626", "labelFontSize": 27, "labelFont": "Liberation Sans", "labelPadding": 10, "titleColor": "#262626", "titleFont": "Liberation Sans", "titleFontSize": 31, "titleFontWeight": "normal", "titlePadding": 9, "labelOverlap": false, "labelFlush": false},
 "legend": {"labelFont": "Liberation Sans", "labelFontSize": 25, "labelColor": "#000000", "labelLimit": 800, "padding": 6, "strokeColor": "#262626", "fillColor": "#ffffff", "labelOffset": 8, "symbolOpacity": 1}
}
}
